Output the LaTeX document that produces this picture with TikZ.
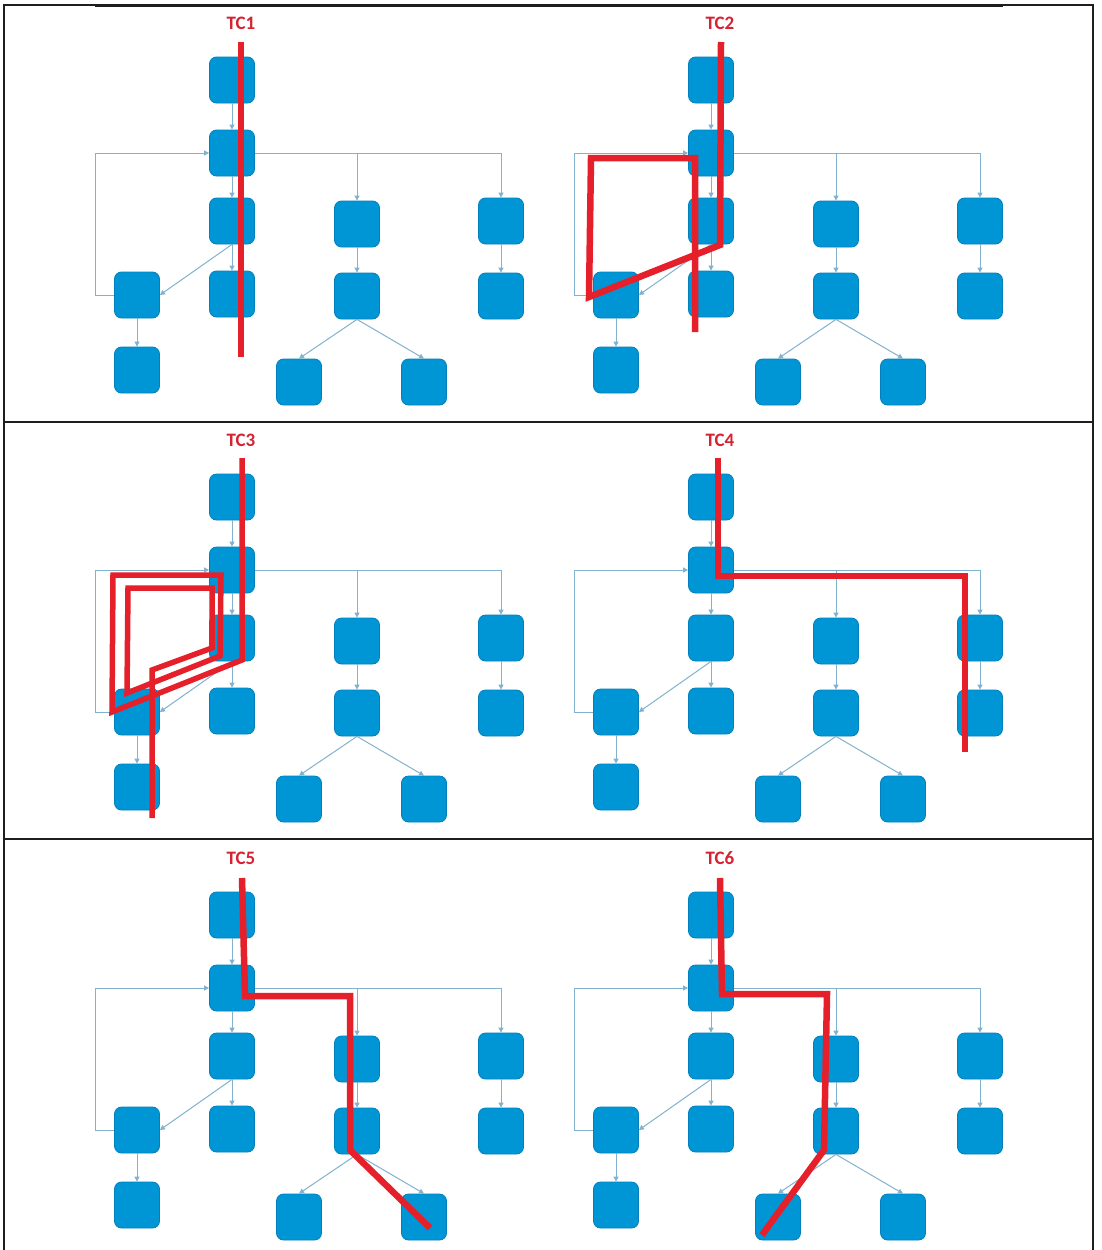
\documentclass[tikz,border=0pt]{standalone}
\usepackage{fontspec}
\newfontfamily\lblfont{Carlito}
\usetikzlibrary{arrows.meta}
\definecolor{boxblue}{RGB}{0,150,214}
\definecolor{boxedge}{RGB}{0,128,188}
\definecolor{connblue}{RGB}{130,178,205}
\definecolor{pathred}{RGB}{230,32,42}
\definecolor{labelred}{RGB}{212,36,52}
\definecolor{rulecol}{RGB}{30,30,30}
\tikzset{
  blk/.style={draw=boxedge, line width=0.8pt, fill=boxblue, rounded corners=7pt,
    minimum width=45pt, minimum height=46pt, inner sep=0pt},
  conn/.style={draw=connblue, line width=1pt, -{Triangle[length=5pt,width=5pt]}},
  tcpath/.style={draw=pathred, line width=6.5pt, line join=miter, miter limit=4},
  tclabel/.style={text=labelred, font=\lblfont\bfseries\fontsize{19}{19}\selectfont, inner sep=0pt},
  tablerule/.style={draw=rulecol, line width=2pt},
}
\newcommand{\drawpanel}[4]{%
  \begin{scope}[shift={(#1,#2)}]
    \node[tclabel] (lbl#3) at (241,23) {#4};
    \node[blk] (A#3) at (232,80) {};
    \node[blk] (B#3) at (232,153) {};
    \node[blk] (C#3) at (232,221) {};
    \node[blk] (D#3) at (232,294) {};
    \node[blk] (E#3) at (137,295) {};
    \node[blk] (F#3) at (137,370) {};
    \node[blk] (G#3) at (357,224) {};
    \node[blk] (H#3) at (357,296) {};
    \node[blk] (I#3) at (299,382) {};
    \node[blk] (J#3) at (424,382) {};
    \node[blk] (K#3) at (501,221) {};
    \node[blk] (L#3) at (501,296) {};
    \draw[conn] (A#3.south) -- (B#3.north);
    \draw[conn] (B#3.south) -- (C#3.north);
    \draw[conn] (C#3.south) -- (D#3.north);
    \draw[conn] (C#3.south) -- (E#3.east);
    \draw[conn] (E#3.west) -- ++(-19,0) |- (B#3.west);
    \draw[conn] (B#3.east) -| (K#3.north);
    \draw[conn] (B#3.east -| G#3.north) -- (G#3.north);
    \draw[conn] (G#3.south) -- (H#3.north);
    \draw[conn] (K#3.south) -- (L#3.north);
    \draw[conn] (E#3.south) -- (F#3.north);
    \draw[conn] (H#3.south) -- (I#3.north);
    \draw[conn] (H#3.south) -- (J#3.north);
  \end{scope}}
\begin{document}
\begin{tikzpicture}[x=1pt,y=-1pt]
  \useasboundingbox[fill=white] (0,0) rectangle (1101,1250);
  % table rules
  \draw[tablerule] (3.5,4.5) -- (1093,4.5);
  \draw[draw=rulecol, line width=3pt] (95,5.5) -- (1003,5.5);
  \draw[tablerule] (3.5,3.5) -- (3.5,1250);
  \draw[tablerule] (1093,3.5) -- (1093,1250);
  \draw[tablerule] (3.5,422) -- (1093,422);
  \draw[tablerule] (3.5,838.5) -- (1093,838.5);
  % panels
  \drawpanel{0}{0}{a}{TC1}
  \drawpanel{479}{0}{b}{TC2}
  \drawpanel{0}{417}{c}{TC3}
  \drawpanel{479}{417}{d}{TC4}
  \drawpanel{0}{835}{e}{TC5}
  \drawpanel{479}{835}{f}{TC6}
  % test case paths
  \draw[tcpath] (241,42) -- (241,357);
  \draw[tcpath] (721,42) -- (720,245) -- (589,297) -- (591,158) -- (695,158) -- (695,332);
  \draw[tcpath, line width=5.5pt] (242,458) -- (242,660) -- (112,712) -- (113,575) -- (221,575)
     -- (220,656) -- (127,693) -- (128,588) -- (212,588) -- (212,648) -- (152,670) -- (152,818);
  \draw[tcpath] (718,458) -- (718,576) -- (965,576) -- (965,752);
  \draw[tcpath] (242,878) -- (245,996) -- (350,996) -- (350,1150) -- (430,1228);
  \draw[tcpath] (720,878) -- (722,994) -- (827,994) -- (824,1150) -- (762,1235);
\end{tikzpicture}
\end{document}
